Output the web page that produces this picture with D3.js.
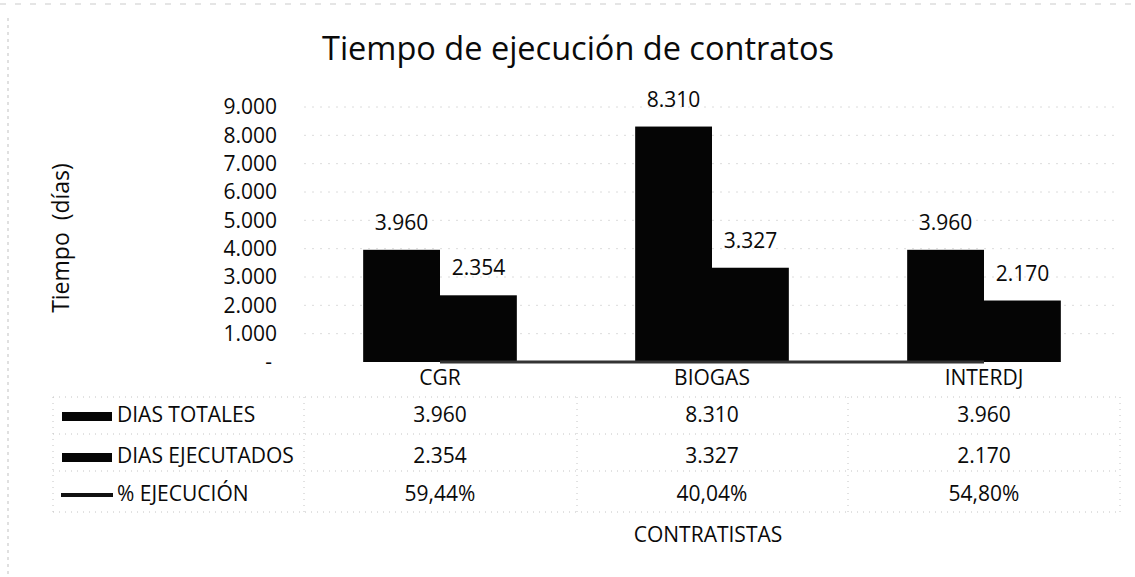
<!DOCTYPE html>
<html lang="es">
<head>
  <meta charset="UTF-8">
  <title>Tiempo de ejecución de contratos</title>
  <script src="https://d3js.org/d3.v7.min.js"></script>
  <style>
    body { margin: 0; background: #fff; }
    svg text { font-family: 'Open Sans', sans-serif; fill: #0a0a0a; font-size: 21px; font-weight: 500; }
  </style>
</head>
<body>
  <div id="root"></div>
  <script>
    // datos
    const categorias = ['CGR', 'BIOGAS', 'INTERDJ']
    const diasTotales = [3960, 8310, 3960]
    const diasEjecutados = [2354, 3327, 2170]
    const pctEjecucion = [59.44, 40.04, 54.80]
    const yTicks = [0, 1000, 2000, 3000, 4000, 5000, 6000, 7000, 8000, 9000]
    const series = ['DIAS TOTALES', 'DIAS EJECUTADOS', '% EJECUCIÓN']

    const width = 1135
    const height = 577

    const es = d3.formatLocale({ decimal: ',', thousands: '.', grouping: [3], currency: ['', ''] })
    const fmtDias = es.format(',.0f')
    const fmtPct = es.format('.2%')

    const svg = d3.select('#root')
      .append('svg')
      .attr('width', width)
      .attr('height', height)
      .style('display', 'block')
      .style('background', '#fff')

    // bordes del escaneo
    svg.append('line')
      .attr('x1', 8).attr('x2', 8).attr('y1', 18).attr('y2', height)
      .attr('stroke', '#999').attr('stroke-dasharray', '3,4').attr('opacity', 0.6)
    svg.append('line')
      .attr('x1', 0).attr('x2', width).attr('y1', 4).attr('y2', 4)
      .attr('stroke', '#999').attr('stroke-dasharray', '6,9').attr('opacity', 0.5)

    const x = d3.scaleBand().domain(categorias).range([304, 1120])
    const xSub = d3.scaleBand().domain([0, 1]).range([0, x.bandwidth()]).paddingOuter(0.77)
    const y = d3.scaleLinear().domain([0, 9000]).range([362, 107])

    svg.append('text')
      .attr('x', 578)
      .attr('y', 60)
      .attr('text-anchor', 'middle')
      .style('font-size', '32.5px')
      .style('font-weight', 400)
      .text('Tiempo de ejecución de contratos')

    // líneas de cuadrícula
    svg.append('g')
      .selectAll('line')
      .data(yTicks.slice(1))
      .join('line')
      .attr('x1', 304)
      .attr('x2', 1120)
      .attr('y1', d => y(d))
      .attr('y2', d => y(d))
      .attr('stroke', '#dcdcdc')
      .attr('stroke-dasharray', '2,6')

    const yAxis = svg.append('g')
      .attr('transform', 'translate(304,0)')
      .call(d3.axisLeft(y)
        .tickValues(yTicks)
        .tickSize(0)
        .tickPadding(27)
        .tickFormat(d => d === 0 ? '-' : fmtDias(d)))
    yAxis.select('.domain').remove()
    yAxis.selectAll('text').filter(d => d === 0).attr('dx', '-5')

    svg.append('text')
      .attr('transform', 'translate(69,238) rotate(-90)')
      .attr('text-anchor', 'middle')
      .style('font-size', '23px')
      .style('font-weight', 400)
      .style('white-space', 'pre')
      .text('Tiempo  (días)')

    const barras = categorias.flatMap((c, i) => [
      { c, k: 0, v: diasTotales[i] },
      { c, k: 1, v: diasEjecutados[i] }
    ])

    svg.append('g')
      .selectAll('rect')
      .data(barras)
      .join('rect')
      .attr('x', d => x(d.c) + xSub(d.k))
      .attr('y', d => y(d.v))
      .attr('width', xSub.bandwidth())
      .attr('height', d => y(0) - y(d.v))
      .attr('fill', '#050505')

    // % ejecución en el eje principal: queda pegada a la base
    svg.append('path')
      .datum(pctEjecucion)
      .attr('d', d3.line()
        .x((d, i) => x(categorias[i]) + x.bandwidth() / 2)
        .y(d => y(d / 100)))
      .attr('fill', 'none')
      .attr('stroke', '#333')
      .attr('stroke-width', 3)

    svg.append('g')
      .selectAll('text')
      .data(barras)
      .join('text')
      .attr('x', d => x(d.c) + xSub(d.k) + xSub.bandwidth() / 2)
      .attr('y', d => y(d.v) - 20)
      .attr('text-anchor', 'middle')
      .text(d => fmtDias(d.v))

    svg.append('g')
      .selectAll('text')
      .data(categorias)
      .join('text')
      .attr('x', d => x(d) + x.bandwidth() / 2)
      .attr('y', 385)
      .attr('text-anchor', 'middle')
      .text(d => d)

    // tabla de datos
    const filaY = [415, 456, 494]
    const bordesY = [397, 434, 471, 512]
    const bordesX = [53, 304, 577, 848, 1120]
    const tabla = svg.append('g')
    tabla.selectAll('.hl')
      .data(bordesY)
      .join('line')
      .attr('x1', 53).attr('x2', 1120)
      .attr('y1', d => d).attr('y2', d => d)
      .attr('stroke', '#c4c4c4')
      .attr('stroke-dasharray', '1,5')
    tabla.selectAll('.vl')
      .data(bordesX)
      .join('line')
      .attr('x1', d => d).attr('x2', d => d)
      .attr('y1', bordesY[0]).attr('y2', bordesY[3])
      .attr('stroke', '#c4c4c4')
      .attr('stroke-dasharray', '1,5')

    const filas = [diasTotales, diasEjecutados, pctEjecucion]
    series.forEach((s, r) => {
      if (r < 2) {
        tabla.append('rect')
          .attr('x', 62).attr('y', filaY[r] - 3)
          .attr('width', 50).attr('height', 9)
          .attr('fill', '#050505')
      } else {
        tabla.append('line')
          .attr('x1', 61).attr('x2', 113)
          .attr('y1', filaY[r] + 1).attr('y2', filaY[r] + 1)
          .attr('stroke', '#111').attr('stroke-width', 4)
      }
      tabla.append('text')
        .attr('x', 117)
        .attr('y', filaY[r] + 7)
        .text(s)
      tabla.append('g')
        .selectAll('text')
        .data(filas[r])
        .join('text')
        .attr('x', (d, i) => x(categorias[i]) + x.bandwidth() / 2)
        .attr('y', filaY[r] + 7)
        .attr('text-anchor', 'middle')
        .text(d => r < 2 ? fmtDias(d) : fmtPct(d / 100))
    })

    svg.append('text')
      .attr('x', 708)
      .attr('y', 542)
      .attr('text-anchor', 'middle')
      .text('CONTRATISTAS')
  </script>
</body>
</html>
